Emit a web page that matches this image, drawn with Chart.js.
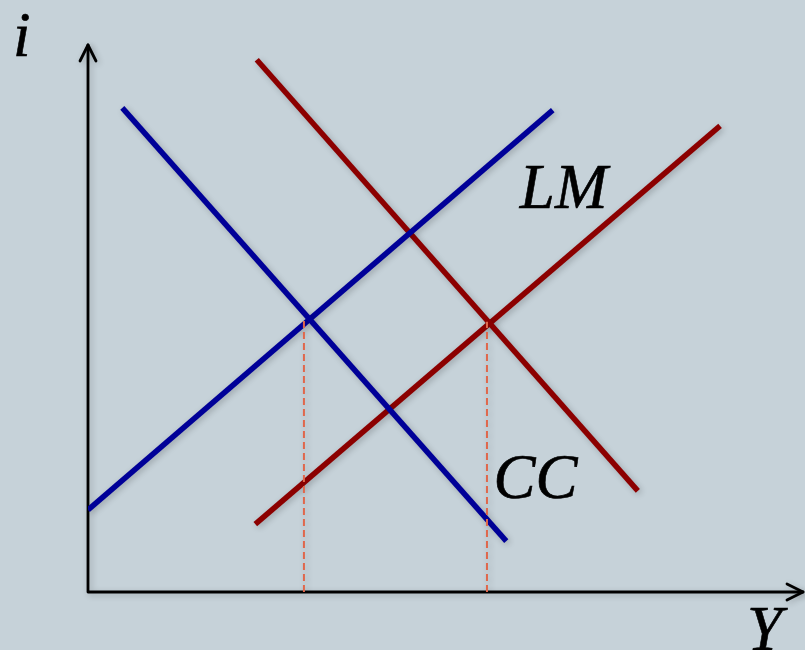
<!DOCTYPE html>
<html>
<head>
<meta charset="utf-8">
<script src="https://cdn.jsdelivr.net/npm/chart.js@4.4.0/dist/chart.umd.min.js"></script>
<style>
  html, body { margin: 0; padding: 0; background: #c6d2d9; }
  canvas { display: block; }
</style>
</head>
<body>
<canvas id="myChart" width="805" height="650"></canvas>
<script>
const ctx = document.getElementById("myChart");

// curve endpoints in diagram units (x: 0-100 along Y axis, y: 0-100 along i axis)
const ccOld = [[4.8, 88.5], [58.5, 9.3]];
const lmOld = [[0, 15.0], [65.0, 88.1]];
const ccNew = [[23.6, 97.3], [76.9, 18.5]];
const lmNew = [[23.4, 12.4], [88.4, 85.2]];
const dropOld = [[30.2, 0], [30.2, 49.7]];
const dropNew = [[55.8, 0], [55.8, 49.4]];

const curveLabels = ["LM", "CC"];
const curveLabelAt = [[60.4, 70.2], [56.7, 17.2]];
const axisLabels = ["i", "Y"];

const toPoints = (arr) => arr.map(([x, y]) => ({ x, y }));

const BLUE = "#000098";
const RED = "#8c0000";
const DASH = "#e0674c";

const background = {
  id: "customCanvasBackgroundColor",
  beforeDraw: (chart) => {
    const { ctx } = chart;
    ctx.save();
    ctx.globalCompositeOperation = "destination-over";
    ctx.fillStyle = "#c6d2d9";
    ctx.fillRect(0, 0, chart.width, chart.height);
    ctx.restore();
  },
};

// soft drop shadow under the lines, like the slide
const shadow = {
  id: "lineShadow",
  beforeDatasetDraw: (chart) => {
    const { ctx } = chart;
    ctx.save();
    ctx.shadowColor = "rgba(0,0,0,0.22)";
    ctx.shadowBlur = 6;
    ctx.shadowOffsetX = 2;
    ctx.shadowOffsetY = 2;
  },
  afterDatasetDraw: (chart) => {
    chart.ctx.restore();
  },
};

const axesAndText = {
  id: "axesAndText",
  beforeDatasetsDraw: (chart) => {
    const { ctx, chartArea, scales } = chart;
    const x0 = scales.x.getPixelForValue(0);
    const y0 = scales.y.getPixelForValue(0);
    const yTop = chartArea.top;
    const xEnd = chartArea.right;
    ctx.save();
    ctx.shadowColor = "rgba(0,0,0,0.22)";
    ctx.shadowBlur = 6;
    ctx.shadowOffsetX = 2;
    ctx.shadowOffsetY = 2;
    ctx.strokeStyle = "#000";
    ctx.lineWidth = 2.8;
    ctx.lineCap = "round";
    ctx.lineJoin = "round";
    ctx.beginPath();
    ctx.moveTo(x0, yTop);
    ctx.lineTo(x0, y0);
    ctx.lineTo(xEnd, y0);
    ctx.stroke();
    // arrow heads
    ctx.beginPath();
    ctx.moveTo(x0 - 8, yTop + 16);
    ctx.lineTo(x0, yTop);
    ctx.lineTo(x0 + 8, yTop + 16);
    ctx.moveTo(xEnd - 16, y0 - 8);
    ctx.lineTo(xEnd, y0);
    ctx.lineTo(xEnd - 16, y0 + 8);
    ctx.stroke();
    ctx.restore();
  },
  afterDatasetsDraw: (chart) => {
    const { ctx, scales } = chart;
    ctx.save();
    ctx.fillStyle = "#000";
    ctx.strokeStyle = "#000";
    ctx.lineWidth = 0.6;
    ctx.textBaseline = "alphabetic";
    ctx.textAlign = "left";
    ctx.font = "italic 63px 'Liberation Serif', 'Times New Roman', serif";
    const put = (t, x, y) => {
      ctx.fillText(t, x, y);
      ctx.strokeText(t, x, y);
    };
    curveLabels.forEach((t, i) => {
      const [x, y] = curveLabelAt[i];
      put(t, scales.x.getPixelForValue(x), scales.y.getPixelForValue(y));
    });
    put(axisLabels[0], 13, 56);
    put(axisLabels[1], 747, 650);
    ctx.restore();
  },
};

const solid = (label, pts, color) => ({
  label,
  data: toPoints(pts),
  borderColor: color,
  borderWidth: 5.5,
  showLine: true,
  pointRadius: 0,
  borderCapStyle: "butt",
});

const dashed = (label, pts) => ({
  label,
  data: toPoints(pts),
  borderColor: DASH,
  borderWidth: 2,
  borderDash: [7, 4],
  showLine: true,
  pointRadius: 0,
});

new Chart(ctx, {
  type: "scatter",
  data: {
    datasets: [
      dashed("drop old", dropOld),
      dashed("drop new", dropNew),
      solid("CC", ccOld, BLUE),
      solid("LM", lmOld, BLUE),
      solid("CC'", ccNew, RED),
      solid("LM'", lmNew, RED),
    ],
  },
  options: {
    responsive: false,
    animation: false,
    devicePixelRatio: 1,
    layout: {
      padding: { left: 88, right: 2, top: 45, bottom: 58 },
    },
    plugins: {
      legend: { display: false },
      tooltip: { enabled: false },
    },
    scales: {
      x: { type: "linear", min: 0, max: 100, display: false },
      y: { type: "linear", min: 0, max: 100, display: false },
    },
  },
  plugins: [background, axesAndText, shadow],
});
</script>
</body>
</html>
